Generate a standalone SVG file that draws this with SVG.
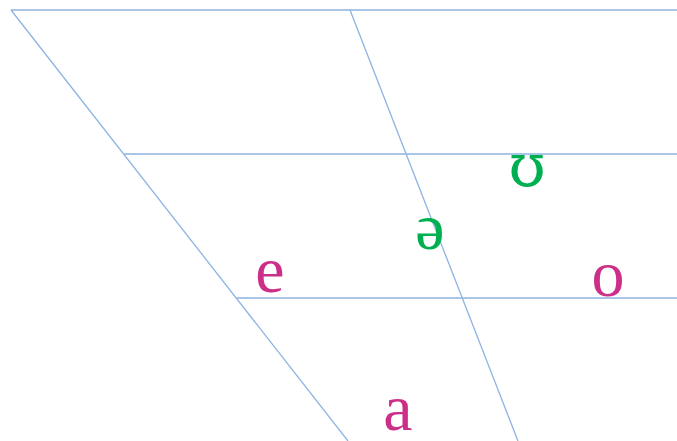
<svg xmlns="http://www.w3.org/2000/svg" width="677" height="441" viewBox="0 0 677 441">
<style>
.ln{stroke:#8db3e2;stroke-width:1.3;fill:none}
.v{font-family:"Liberation Serif","DejaVu Serif",serif;font-size:66px;text-anchor:middle}
.dv{font-family:"DejaVu Serif",serif;font-size:60px}
.m{fill:#cc2f88}
.g{fill:#00b050}
</style>
<rect width="677" height="441" fill="#fff"/>
<g id="connectors">
<line class="ln" x1="11" y1="10" x2="677" y2="10"/>
<line class="ln" x1="11" y1="10" x2="348" y2="441"/>
<line class="ln" x1="350" y1="10" x2="518" y2="441"/>
<line class="ln" x1="124" y1="154" x2="677" y2="154"/>
<line class="ln" x1="237" y1="298" x2="677" y2="298"/>
</g>
<g id="u"><text class="v dv g" x="527" y="186">ʊ</text></g>
<g id="schwa"><text class="v g" x="430" y="249">ə</text></g>
<g id="e"><text class="v m" x="270" y="292">e</text></g>
<g id="o"><text class="v m" x="608" y="296">o</text></g>
<g id="a"><text class="v m" x="398" y="430">a</text></g>
</svg>
